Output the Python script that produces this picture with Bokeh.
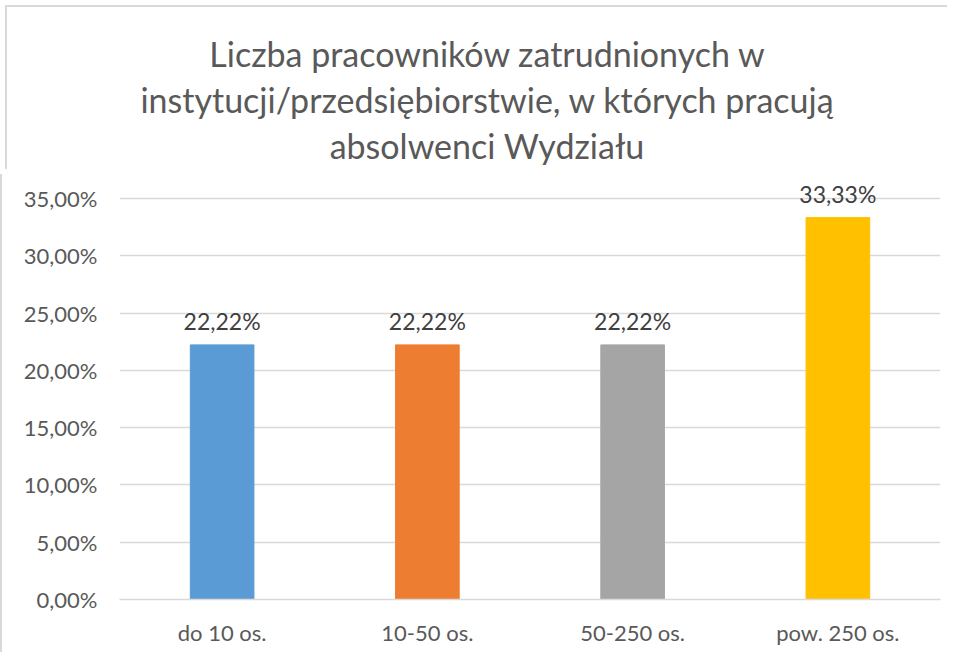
from bokeh.plotting import figure
from bokeh.models import ColumnDataSource, FixedTicker, LabelSet, Range1d, Div
from bokeh.layouts import column
from bokeh.core.properties import value
from bokeh.embed import file_html
from bokeh.resources import INLINE

title_lines = ["Liczba pracowników zatrudnionych w",
               "instytucji/przedsiębiorstwie, w których pracują",
               "absolwenci Wydziału"]
categories = ["do 10 os.", "10-50 os.", "50-250 os.", "pow. 250 os."]
values = [22.22, 22.22, 22.22, 33.33]
value_labels = ["22,22%", "22,22%", "22,22%", "33,33%"]
colors = ["#5B9BD5", "#ED7D31", "#A5A5A5", "#FFC000"]
y_ticks = [0, 5, 10, 15, 20, 25, 30, 35]
y_tick_labels = ["0,00%", "5,00%", "10,00%", "15,00%", "20,00%", "25,00%", "30,00%", "35,00%"]

FONT = "Lato"

source = ColumnDataSource(dict(cat=categories, val=values, lab=value_labels, col=colors))

title_div = Div(text="<br>".join(title_lines), width=942, height=164,
                styles={"text-align": "center", "font-family": FONT, "font-size": "34px",
                        "color": "#595959", "line-height": "46px", "padding-top": "26px",
                        "padding-left": "22px", "box-sizing": "border-box",
                        "width": "942px", "box-shadow": "inset 2px 2px 0 0 #d9d9d9"})

p = figure(x_range=categories, y_range=Range1d(0, 37.09), width=942, height=478,
           output_backend="svg", toolbar_location=None,
           min_border_left=117, min_border_right=4, min_border_bottom=53, min_border_top=0)
p.styles = {"border-left": "2px solid #d9d9d9"}

p.vbar(x="cat", top="val", width=0.31, color="col", source=source)

labels = LabelSet(x="cat", y="val", text="lab", source=source, text_align="center",
                  text_baseline="alphabetic", y_offset=15, text_color="#404040",
                  text_font_size="23px", text_font=value(FONT))
p.add_layout(labels)

p.outline_line_color = None
p.xgrid.grid_line_color = None
p.ygrid.grid_line_color = "#d9d9d9"
p.ygrid.grid_line_width = 1.5
p.yaxis.ticker = FixedTicker(ticks=y_ticks)
p.yaxis.major_label_overrides = {t: l for t, l in zip(y_ticks, y_tick_labels)}
p.yaxis.axis_line_color = None
p.yaxis.major_tick_line_color = None
p.yaxis.minor_tick_line_color = None
p.yaxis.major_tick_out = 0
p.yaxis.minor_tick_out = 0
p.yaxis.major_label_standoff = 22
p.xaxis.axis_line_color = "#d9d9d9"
p.xaxis.axis_line_width = 1.5
p.xaxis.major_tick_line_color = None
p.xaxis.major_tick_out = 0
p.xaxis.major_label_standoff = 19
for ax in (p.xaxis, p.yaxis):
    ax.major_label_text_font = FONT
    ax.major_label_text_font_size = "22px"
    ax.major_label_text_color = "#595959"

layout = column(title_div, p, spacing=0)
open("out.html", "w").write(file_html(layout, INLINE))
